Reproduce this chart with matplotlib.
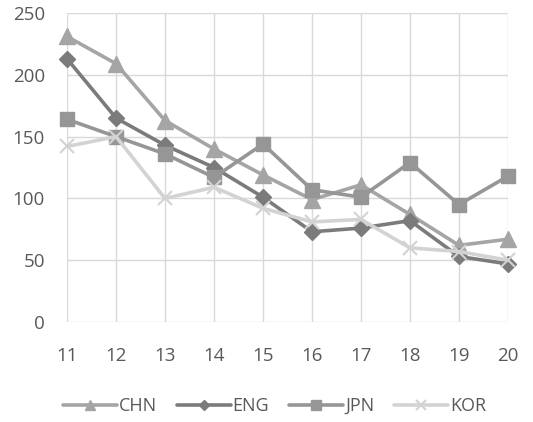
import matplotlib
matplotlib.use("Agg")
import matplotlib.pyplot as plt

years = [11, 12, 13, 14, 15, 16, 17, 18, 19, 20]
chn = [231, 209, 163, 140, 119, 99, 111, 87, 62, 67]
eng = [213, 165, 143, 125, 101, 73, 76, 82, 53, 47]
jpn = [164, 150, 136, 117, 144, 107, 101, 129, 95, 118]
kor = [142, 150, 100, 109, 92, 81, 83, 60, 57, 50]
yticks = [0, 50, 100, 150, 200, 250]

plt.rcParams['font.family'] = ['Open Sans', 'DejaVu Sans']
fig = plt.figure(figsize=(5.33, 4.22), dpi=100)
ax = fig.add_axes([67/533, 1-322/422, (508-67)/533, (322-13)/422])

series = [
    ("CHN", chn, "#A5A5A5", "^", 11),
    ("ENG", eng, "#7B7B7B", "D", 8),
    ("JPN", jpn, "#969696", "s", 10),
    ("KOR", kor, "#D3D3D3", "x", 10),
]
for name, vals, col, mk, ms in series:
    kw = dict(markeredgewidth=1.5) if mk == "x" else dict(markeredgecolor=col)
    ax.plot(years, vals, color=col, lw=2.6, marker=mk, markersize=ms,
            markerfacecolor=col, label=name, solid_capstyle='round',
            clip_on=False, **kw)

ax.set_xlim(11, 20)
ax.set_ylim(0, 250)
ax.set_xticks(years)
ax.set_yticks(yticks)
ax.grid(True, color="#D9D9D9", lw=1.0)
ax.set_axisbelow(True)
for s in ax.spines.values():
    s.set_visible(False)
ax.tick_params(length=0, labelsize=13.5, labelcolor="#595959")
ax.tick_params(axis='x', pad=18)
ax.tick_params(axis='y', pad=16)

leg = fig.legend(loc='center', bbox_to_anchor=(0.515, 1-406/422), ncol=4,
                 frameon=False, fontsize=13, handlelength=3.0, columnspacing=1.1,
                 handletextpad=0.1, labelcolor="#595959", markerscale=0.7)
fig.savefig("out.png", dpi=100)
